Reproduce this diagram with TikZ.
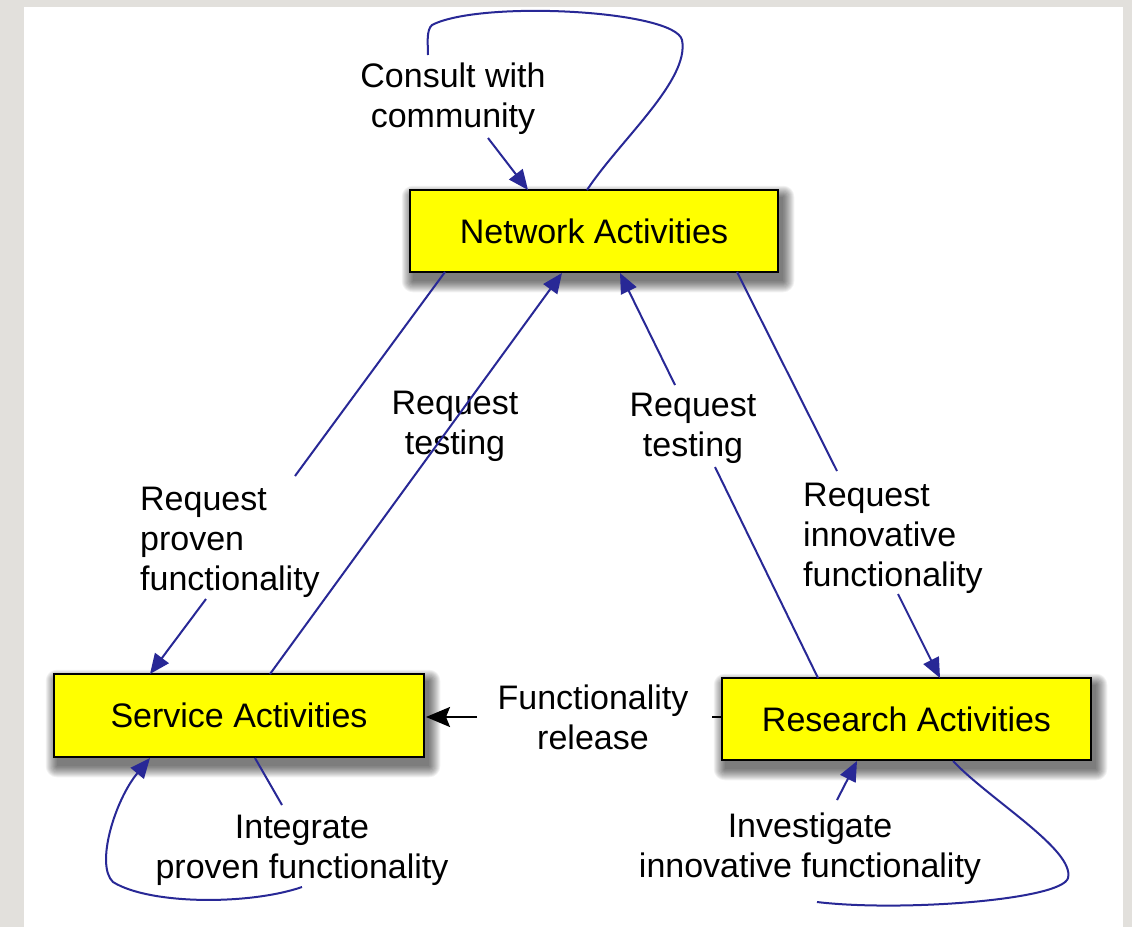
\documentclass[tikz,border=0pt]{standalone}
\usepackage{fontspec}
\setmainfont{Liberation Sans}
\usetikzlibrary{arrows.meta,calc}
\definecolor{bg}{RGB}{226,224,220}
\definecolor{conncol}{RGB}{40,40,150}
\definecolor{boxfill}{RGB}{255,255,0}
\newcommand{\dgmfont}{\fontsize{34}{40}\selectfont}
\pgfdeclarelayer{pagelayer}
\pgfdeclarelayer{shadowlayer}
\pgfsetlayers{pagelayer,shadowlayer,main}
\tikzset{
  actbox/.style={draw=black, line width=2.5pt, fill=boxfill, inner sep=0pt, font=\dgmfont},
  lbl/.style={inner sep=0pt, font=\dgmfont},
  conn/.style={draw=conncol, line width=2pt},
  tip/.style={-{Triangle[length=20pt,width=17pt]}},
  blacktip/.style={-{Stealth[length=24pt,width=20pt,inset=4pt]}},
  shadowpiece/.style={fill=black, opacity=0.055},
}
\begin{document}
\begin{tikzpicture}[x=1pt,y=-1pt]
\useasboundingbox (0,0) rectangle (1132,927);
\begin{pgfonlayer}{pagelayer}
\fill[bg] (0,0) rectangle (1132,927);
\fill[white] (24,7) rectangle (1123,927);
\end{pgfonlayer}

% boxes
\node[actbox, minimum width=368pt, minimum height=82pt] (net) at (594,231) {Network Activities};
\node[actbox, minimum width=370pt, minimum height=83pt] (svc) at (239,715.5) {Service Activities};
\node[actbox, minimum width=369pt, minimum height=82pt] (res) at (906.5,719) {Research Activities};

% soft shadows under the boxes
\begin{pgfonlayer}{shadowlayer}
\foreach \n in {net,svc,res}{
  \foreach \r in {0,...,11}{
    \fill[shadowpiece, rounded corners=\r pt]
      ($(\n.north west)+(4-\r,8-\r)$) rectangle ($(\n.south east)+(4+\r,8+\r)$);
  }
}
\end{pgfonlayer}

% labels
\node[lbl, align=center, anchor=north] (lconsult) at (453,63) {Consult with\\community};
\node[lbl, align=left, anchor=north west] (lproven) at (140,487) {Request\\proven\\functionality};
\node[lbl, align=center, anchor=north] (ltestL) at (455,391) {Request\\testing};
\node[lbl, align=center, anchor=north] (ltestR) at (693,393) {Request\\testing};
\node[lbl, align=left, anchor=north west] (linnov) at (803,483) {Request\\innovative\\functionality};
\node[lbl, align=center, anchor=north] (lrelease) at (593,685) {Functionality\\release};
\node[lbl, align=center, anchor=north] (lintegrate) at (302,815) {Integrate\\proven functionality};
\node[lbl, align=center, anchor=north] (linvest) at (810,813) {Investigate\\innovative functionality};

% connector end points
\coordinate (c1a) at (587,190);
\coordinate (c1b) at (428,55);
\coordinate (c1c) at (488,138);
\coordinate (c1d) at (528,190);
\coordinate (c2a) at (445,272);
\coordinate (c2b) at (295,476);
\coordinate (c2c) at (206,599);
\coordinate (c2d) at (150,674);
\coordinate (c3a) at (270,674);
\coordinate (c3b) at (562,273);
\coordinate (c4a) at (818,678);
\coordinate (c4b) at (715,467);
\coordinate (c4c) at (675,385);
\coordinate (c4d) at (620,273);
\coordinate (c5a) at (737,272);
\coordinate (c5b) at (837,471);
\coordinate (c5c) at (898,594);
\coordinate (c5d) at (940,678);
\coordinate (c6a) at (722,717);
\coordinate (c6b) at (712,717);
\coordinate (c6c) at (477,717);
\coordinate (c6d) at (426,717);
\coordinate (c7a) at (255,758);
\coordinate (c7b) at (282,805);
\coordinate (c7c) at (302,887);
\coordinate (c7d) at (150,758);
\coordinate (c8a) at (953,761);
\coordinate (c8b) at (817,902);
\coordinate (c8c) at (837,800);
\coordinate (c8d) at (857,761);

% consult with community (self loop on network)
\draw[conn] (c1a) .. controls (620,140) and (690,80) .. (682,40)
  .. controls (675,10) and (480,0) .. (432,25)
  .. controls (426,30) and (428,45) .. (c1b);
\draw[conn,tip] (c1c) -- (c1d);

% request proven functionality
\draw[conn] (c2a) -- (c2b);
\draw[conn,tip] (c2c) -- (c2d);

% request testing (service -> network)
\draw[conn,tip] (c3a) -- (c3b);

% request testing (research -> network)
\draw[conn] (c4a) -- (c4b);
\draw[conn,tip] (c4c) -- (c4d);

% request innovative functionality
\draw[conn] (c5a) -- (c5b);
\draw[conn,tip] (c5c) -- (c5d);

% functionality release
\draw[line width=2pt] (c6a) -- (c6b);
\draw[line width=2pt, blacktip] (c6c) -- (c6d);

% integrate proven functionality (self loop on service)
\draw[conn] (c7a) -- (c7b);
\draw[conn,tip] (c7c) .. controls (250,905) and (150,905) .. (113,882)
  .. controls (95,865) and (115,800) .. (c7d);

% investigate innovative functionality (self loop on research)
\draw[conn] (c8a) .. controls (990,800) and (1075,850) .. (1068,878)
  .. controls (1062,900) and (900,912) .. (c8b);
\draw[conn,tip] (c8c) -- (c8d);
\end{tikzpicture}
\end{document}
